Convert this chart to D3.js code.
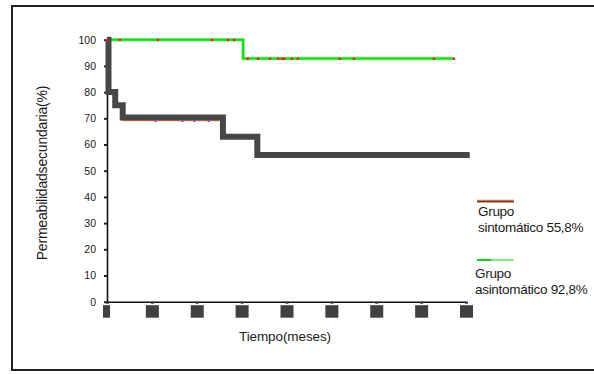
<!DOCTYPE html>
<html>
<head>
<meta charset="utf-8">
<script src="https://cdn.jsdelivr.net/npm/d3@7"></script>
<style>
  body { margin: 0; background: #fff; }
  text { font-family: "Liberation Sans", Arial, sans-serif; fill: #1a1a1a; }
</style>
</head>
<body>
<div id="chart"></div>
<script>
// tick values (the x tick labels render as solid boxes in the original)
const xTicks = [0, 6, 12, 18, 24, 30, 36, 42, 48];
const yTicks = [0, 10, 20, 30, 40, 50, 60, 70, 80, 90, 100];

// symptomatic group (thick grey step curve)
const sintoTime = [0, 0.2, 1.1, 2.1, 15.5, 20.1, 48.5];
const sintoValue = [100, 80, 75, 70.3, 63, 56, 56];
// orange curve peeking under the grey one
const sintoOrangeTime = [2.0, 15.0];
const sintoOrangeValue = [69.3, 69.3];
const sintoCensorTime = [6.5, 10.1, 11.7, 13.6];
const sintoCensorValue = [69.5, 69.5, 69.5, 69.5];

// asymptomatic group (green)
const asintoTime = [0, 18.2, 46.3];
const asintoValue = [100, 92.8, 92.8];
const asintoCensorTime = [0, 1.7, 6.8, 14.0, 16.2, 17.0, 18.8, 20.2, 21.8, 22.9, 23.4, 23.7, 24.7, 25.5, 31.1, 33.0, 43.7, 46.4];
const asintoCensorValue = [100, 100, 100, 100, 100, 100, 92.8, 92.8, 92.8, 92.8, 92.8, 92.8, 92.8, 92.8, 92.8, 92.8, 92.8, 92.8];

const legendLabels = [["Grupo", "sintomático 55,8%"], ["Grupo", "asintomático 92,8%"]];

const width = 594, height = 374;

const svg = d3.select("#chart").append("svg")
  .attr("width", width)
  .attr("height", height);

// outer frame
svg.append("rect")
  .attr("x", 12).attr("y", 6)
  .attr("width", 600).attr("height", 364)
  .attr("fill", "none")
  .attr("stroke", "#222")
  .attr("stroke-width", 2);

const x = d3.scaleLinear()
  .domain([0, 48])
  .range([107, 466]);

const y = d3.scaleLinear()
  .domain([0, 100])
  .range([301.7, 39.7]);

const zip = (t, v) => t.map((d, i) => ({ t: d, v: v[i] }));

const step = d3.line()
  .x(d => x(d.t))
  .y(d => y(d.v))
  .curve(d3.curveStepAfter);

// y axis
const yAxis = svg.append("g")
  .attr("transform", `translate(${x(0)},0)`)
  .call(d3.axisLeft(y).tickValues(yTicks).tickSize(3).tickPadding(8).tickSizeOuter(0));
yAxis.select(".domain").attr("stroke", "#111").attr("stroke-width", 1.6);
yAxis.selectAll(".tick line").attr("stroke", "#222").attr("stroke-width", 2);
yAxis.selectAll(".tick text")
  .style("font-size", "10.5px")
  .attr("fill", "#222");

// x axis
const xAxis = svg.append("g")
  .attr("transform", `translate(0,${y(0)})`)
  .call(d3.axisBottom(x).tickValues(xTicks).tickSize(2).tickSizeOuter(0).tickFormat(""));
xAxis.select(".domain").attr("stroke", "#111").attr("stroke-width", 1.6);
xAxis.selectAll(".tick line").attr("stroke", "#333").attr("stroke-width", 3);
// tick labels show as solid boxes
xAxis.selectAll(".tick").append("rect")
  .attr("x", (d, i) => i === 0 ? -4.5 : -6.5)
  .attr("y", 3.5)
  .attr("width", (d, i) => i === 0 ? 7 : 13)
  .attr("height", 12.5)
  .attr("fill", "#414141");

// asymptomatic curve
svg.append("path")
  .datum(zip(asintoTime, asintoValue))
  .attr("d", step)
  .attr("fill", "none")
  .attr("stroke", "#7ef07e")
  .attr("stroke-width", 3.4);
svg.append("path")
  .datum(zip(asintoTime, asintoValue))
  .attr("d", step)
  .attr("fill", "none")
  .attr("stroke", "#10e010")
  .attr("stroke-width", 2);

// symptomatic curves
svg.append("path")
  .datum(zip(sintoOrangeTime, sintoOrangeValue))
  .attr("d", step)
  .attr("fill", "none")
  .attr("stroke", "#f08a50")
  .attr("stroke-width", 2);

svg.append("path")
  .datum(zip(sintoTime, sintoValue))
  .attr("d", step)
  .attr("fill", "none")
  .attr("stroke", "#474747")
  .attr("stroke-width", 6);

svg.selectAll(".censor-s")
  .data(zip(sintoCensorTime, sintoCensorValue))
  .enter().append("rect")
  .attr("class", "censor-s")
  .attr("x", d => x(d.t) - 1)
  .attr("y", d => y(d.v) + 0.5)
  .attr("width", 2).attr("height", 2)
  .attr("fill", "#8a4ad0");

svg.selectAll(".censor-a")
  .data(zip(asintoCensorTime, asintoCensorValue))
  .enter().append("rect")
  .attr("class", "censor-a")
  .attr("x", d => x(d.t) - 1.2)
  .attr("y", d => y(d.v) - 1)
  .attr("width", 2.4).attr("height", 2.4)
  .attr("fill", "#ee2020");

// axis titles
svg.append("text")
  .attr("transform", `translate(47,173) rotate(-90)`)
  .attr("text-anchor", "middle")
  .style("font-size", "14px")
  .style("letter-spacing", "-0.2px")
  .text("Permeabilidadsecundaria(%)");

svg.append("text")
  .attr("x", 285).attr("y", 341)
  .attr("text-anchor", "middle")
  .style("font-size", "13.5px")
  .style("letter-spacing", "-0.1px")
  .text("Tiempo(meses)");

// legend
const leg = svg.append("g");
leg.append("line")
  .attr("x1", 477).attr("x2", 514).attr("y1", 201.2).attr("y2", 201.2)
  .attr("stroke", "#c97a50").attr("stroke-width", 3);
leg.append("line")
  .attr("x1", 477).attr("x2", 514).attr("y1", 201.5).attr("y2", 201.5)
  .attr("stroke", "#6a3a22").attr("stroke-width", 1);
leg.append("line")
  .attr("x1", 477).attr("x2", 514).attr("y1", 260).attr("y2", 260)
  .attr("stroke", "#80f080").attr("stroke-width", 2);
leg.append("line")
  .attr("x1", 477).attr("x2", 491).attr("y1", 260).attr("y2", 260)
  .attr("stroke", "#10d010").attr("stroke-width", 2);

const legY = [215.5, 277.5];
const legX = [478, 475];
legendLabels.forEach((lines, i) => {
  lines.forEach((s, j) => {
    leg.append("text")
      .attr("x", legX[i])
      .attr("y", legY[i] + j * 16)
      .style("font-size", "13.5px")
      .style("letter-spacing", "-0.3px")
      .text(s);
  });
});
</script>
</body>
</html>
